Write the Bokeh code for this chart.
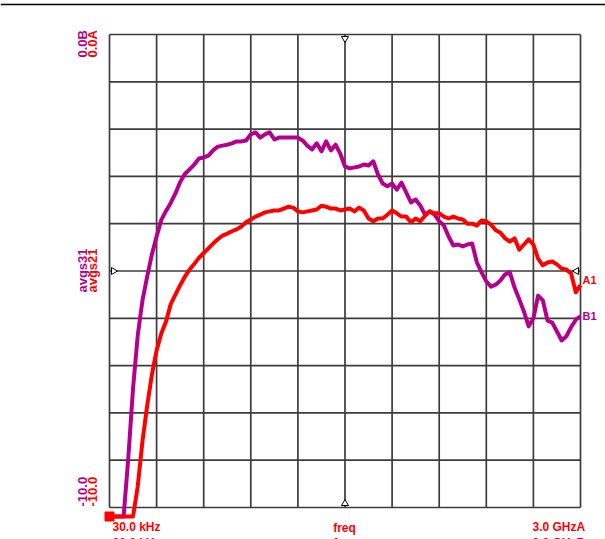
import math
from bokeh.plotting import figure
from bokeh.models import Range1d, Label
from bokeh.embed import file_html
from bokeh.resources import INLINE

# ---- data -------------------------------------------------------------
freq_mhz = [0.03, 30, 60, 90, 120, 150, 180, 210, 240, 270,
            300, 330, 360, 390, 420, 450, 480, 510, 540, 570,
            600, 630, 660, 690, 720, 750, 780, 810, 840, 870,
            900, 930, 960, 990, 1020, 1050, 1080, 1110, 1140, 1170,
            1200, 1230, 1260, 1290, 1320, 1350, 1380, 1410, 1440, 1470,
            1500, 1530, 1560, 1590, 1620, 1650, 1680, 1710, 1740, 1770,
            1800, 1830, 1860, 1890, 1920, 1950, 1980, 2010, 2040, 2070,
            2100, 2130, 2160, 2190, 2220, 2250, 2280, 2310, 2340, 2370,
            2400, 2430, 2460, 2490, 2520, 2550, 2580, 2610, 2640, 2670,
            2700, 2730, 2760, 2790, 2820, 2850, 2880, 2910, 2940, 2970,
            3000]

avgs31_db = [-10.19, -10.19, -10.19, -10.19, -8.94, -7.48, -6.36, -5.62, -5.12, -4.65,
             -4.27, -3.92, -3.73, -3.56, -3.36, -3.12, -2.95, -2.85, -2.75, -2.62,
             -2.60, -2.56, -2.45, -2.37, -2.35, -2.33, -2.30, -2.26, -2.26, -2.24,
             -2.11, -2.07, -2.18, -2.11, -2.07, -2.22, -2.18, -2.18, -2.18, -2.18,
             -2.18, -2.24, -2.35, -2.43, -2.30, -2.47, -2.26, -2.45, -2.33, -2.52,
             -2.79, -2.83, -2.81, -2.79, -2.75, -2.77, -2.68, -2.96, -3.15, -3.21,
             -3.15, -3.28, -3.13, -3.34, -3.55, -3.49, -3.62, -3.81, -3.74, -3.81,
             -3.95, -4.04, -4.27, -4.46, -4.44, -4.48, -4.44, -4.42, -4.82, -5.03,
             -5.22, -5.33, -5.29, -5.20, -5.07, -5.03, -5.35, -5.60, -5.86, -6.17,
             -6.00, -5.52, -5.62, -6.05, -6.09, -6.28, -6.47, -6.38, -6.19, -6.03,
             -5.96]

avgs21_db = [-10.19, -10.19, -10.19, -10.19, -10.19, -10.19, -9.55, -8.60, -7.85, -7.19,
             -6.68, -6.32, -6.07, -5.70, -5.50, -5.30, -5.12, -4.97, -4.85, -4.72,
             -4.62, -4.52, -4.42, -4.33, -4.25, -4.21, -4.16, -4.12, -4.06, -3.97,
             -3.91, -3.85, -3.81, -3.76, -3.74, -3.72, -3.72, -3.68, -3.64, -3.66,
             -3.74, -3.76, -3.74, -3.72, -3.70, -3.62, -3.64, -3.68, -3.68, -3.72,
             -3.70, -3.68, -3.74, -3.66, -3.72, -3.89, -3.95, -3.89, -3.89, -3.81,
             -3.72, -3.78, -3.85, -3.85, -3.97, -3.89, -3.95, -3.83, -3.74, -3.78,
             -3.78, -3.85, -3.89, -3.85, -3.89, -3.91, -4.00, -4.00, -4.04, -3.93,
             -3.95, -4.02, -4.14, -4.19, -4.31, -4.38, -4.31, -4.55, -4.44, -4.33,
             -4.44, -4.74, -4.88, -4.82, -4.80, -4.86, -4.95, -4.97, -5.05, -5.45,
             -5.30]

x_grid = [0.03, 300, 600, 900, 1200, 1500, 1800, 2100, 2400, 2700, 3000]
y_grid = [0, -1, -2, -3, -4, -5, -6, -7, -8, -9, -10]

top_labels = ["0.0B", "0.0A"]
mid_labels = ["avgs31", "avgs21"]
bot_labels = ["-10.0", "-10.0"]
start_label = "30.0 kHz"
center_label = "freq"
stop_labels = ["3.0 GHzB", "3.0 GHzA"]
marker_labels = ["B1", "A1"]

# ---- layout --------------------------------------------------------------
MAG = "#b4008c"
RED = "#ff0000"
GRID = "#3c3c3c"
W, H = 605, 539
GX0, GY0 = 109, 34          # graticule top-left in page pixels
x_lo, x_hi = x_grid[0], x_grid[-1]
y_hi, y_lo = y_grid[0], y_grid[-1]
mhz_per_px = (x_hi - x_lo) / 471.0
db_per_px = (y_hi - y_lo) / 473.0

xr0 = x_lo - GX0 * mhz_per_px
yr1 = y_hi + GY0 * db_per_px
p = figure(width=W, height=H,
           x_range=Range1d(xr0, xr0 + W * mhz_per_px),
           y_range=Range1d(yr1 - H * db_per_px, yr1),
           output_backend="svg", toolbar_location=None,
           x_axis_location=None, y_axis_location=None,
           min_border_left=0, min_border_right=0,
           min_border_top=0, min_border_bottom=0)
p.grid.visible = False
p.outline_line_color = None
p.background_fill_color = "white"
p.border_fill_color = "white"


def dx(px):
    return x_lo + (px - GX0) * mhz_per_px


def dy(py):
    return y_hi - (py - GY0) * db_per_px


# window edge line at the very top
p.segment(x0=[dx(0)], y0=[dy(4)], x1=[dx(W)], y1=[dy(4)], line_color="black", line_width=1.5)

# graticule
p.segment(x0=x_grid, y0=[y_lo] * len(x_grid), x1=x_grid, y1=[y_hi] * len(x_grid),
          line_color=GRID, line_width=1.7)
p.segment(x0=[x_lo] * len(y_grid), y0=y_grid, x1=[x_hi] * len(y_grid), y1=y_grid,
          line_color=GRID, line_width=1.7)

# centre markers on graticule edges
xc = x_grid[5]
yc = y_grid[5]
tri = dict(size=7, line_color="black", fill_color="white", line_width=1)
p.scatter([xc], [y_hi - 4 * db_per_px], marker="inverted_triangle", **tri)
p.scatter([xc], [y_lo + 4 * db_per_px], marker="triangle", **tri)
p.scatter([x_lo + 4 * mhz_per_px], [yc], marker="triangle", angle=-math.pi / 2, **tri)
p.scatter([x_hi - 4 * mhz_per_px], [yc], marker="triangle", angle=math.pi / 2, **tri)

# traces
p.line(freq_mhz, avgs31_db, line_color=MAG, line_width=4, line_join="round")
p.line(freq_mhz, avgs21_db, line_color=RED, line_width=4, line_join="round")
p.scatter([freq_mhz[0]], [avgs21_db[0]], marker="square", size=9,
          fill_color=RED, line_color=RED)

FONT = "Liberation Sans"


def lab(text, x, y, color, size, angle=0.0, align="left", baseline="top"):
    p.add_layout(Label(x=x, y=y, text=text, text_color=color,
                       text_font=FONT, text_font_size=size, text_font_style="bold",
                       angle=angle, text_align=align, text_baseline=baseline))


# left rotated labels (B magenta, A red)
for i, col in enumerate([MAG, RED]):
    xx = dx(82 + 10 * i)
    lab(top_labels[i], xx, dy(57), col, "13px", math.pi / 2, "left", "middle")
    lab(mid_labels[i], xx, dy(270), col, "13px", math.pi / 2, "center", "middle")
    lab(bot_labels[i], xx, dy(506), col, "13px", math.pi / 2, "left", "middle")

# bottom labels: magenta copy below (partly cut), red on top row
lab(start_label, dx(112), dy(535), MAG, "12px")
lab(center_label, dx(344), dy(535), MAG, "12px", align="center")
lab(stop_labels[0], dx(532), dy(535), MAG, "12px")
lab(start_label, dx(112), dy(519), RED, "12px")
lab(center_label, dx(344), dy(520), RED, "12px", align="center")
lab(stop_labels[1], dx(532), dy(519), RED, "12px")

# trace end marker labels
lab(marker_labels[0], x_hi + 2 * mhz_per_px, avgs31_db[-1], MAG, "11px",
    baseline="middle")
lab(marker_labels[1], x_hi + 2 * mhz_per_px, avgs21_db[-1] + 0.12, RED, "11px",
    baseline="middle")

open("out.html", "w").write(file_html(p, INLINE))
